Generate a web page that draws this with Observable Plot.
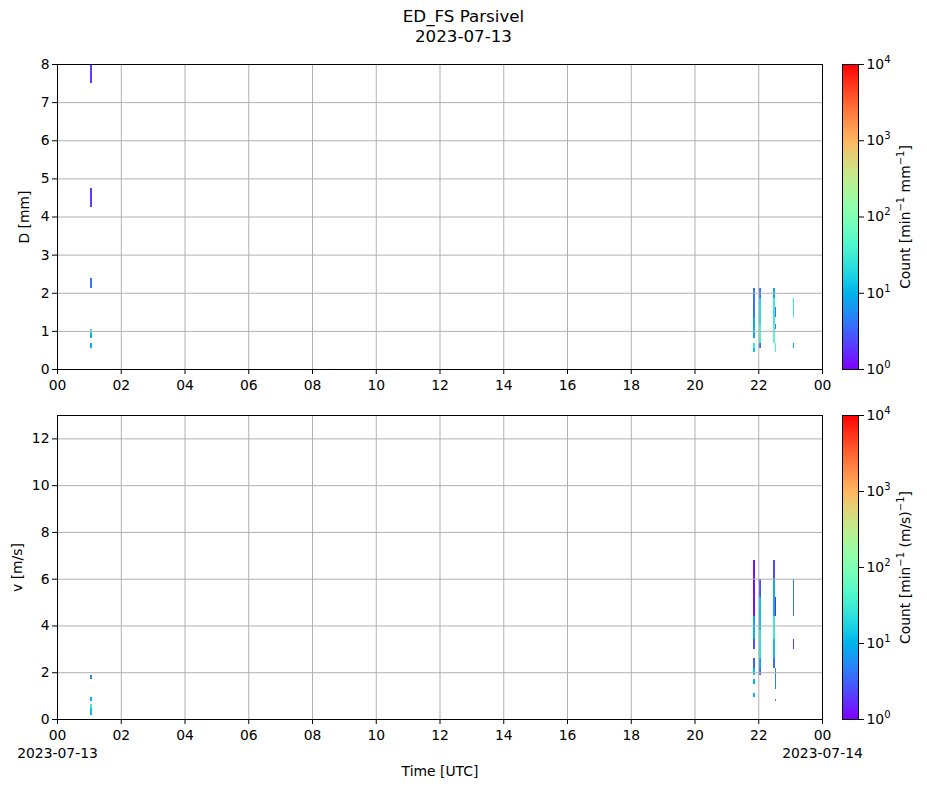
<!DOCTYPE html>
<html><head><meta charset="utf-8">
<script src="https://cdn.jsdelivr.net/npm/d3@7"></script>
<script src="https://cdn.jsdelivr.net/npm/@observablehq/plot@0.6"></script>
<style>
body{margin:0;background:#fff;font-family:"DejaVu Sans",sans-serif;}
#fig{position:relative;width:927px;height:788px;background:#fff;}
.abs{position:absolute;}
#title{left:0;top:7px;width:927px;text-align:center;font-size:16.7px;line-height:19.5px;color:#000;}
</style></head><body>
<div id="fig">
<div id="title" class="abs">ED_FS Parsivel<br>2023-07-13</div>
<div id="p1" class="abs" style="left:0;top:54px"></div>
<div id="c1" class="abs" style="left:842px;top:54px"></div>
<div id="p2" class="abs" style="left:0;top:405px"></div>
<div id="c2" class="abs" style="left:842px;top:405px"></div>
</div>
<script>
// ---- data ----
const hourTicks = [0, 2, 4, 6, 8, 10, 12, 14, 16, 18, 20, 22, 24];
const diameterTicks = [0, 1, 2, 3, 4, 5, 6, 7, 8];
const velocityTicks = [0, 2, 4, 6, 8, 10, 12];
const colorTicks = [1, 10, 100, 1000, 10000];
const startDate = "2023-07-13";
const endDate = "2023-07-14";
const diameterUnitLabel = [["Count [min", false], ["−1", true], [" mm", false], ["−1", true], ["]", false]];
const velocityUnitLabel = [["Count [min", false], ["−1", true], [" (m/s)", false], ["−1", true], ["]", false]];

// [start time UTC, minutes, bin low, bin high, count]
const diameterCells = [
  ["01:02", 4, 7.5, 8.5, 2],
  ["01:02", 4, 4.25, 4.75, 2],
  ["01:02", 4, 2.125, 2.375, 4],
  ["01:02", 4, 0.937, 1.062, 25],
  ["01:02", 4, 0.812, 0.937, 10],
  ["01:02", 4, 0.562, 0.687, 9],
  ["21:50", 4, 1.375, 2.125, 4],
  ["21:50", 4, 0.937, 1.375, 9],
  ["21:50", 4, 0.812, 0.937, 7],
  ["21:50", 4, 0.562, 0.687, 30],
  ["21:50", 4, 0.437, 0.562, 14],
  ["22:02", 3, 1.875, 2.125, 4],
  ["22:02", 3, 1.187, 1.875, 20],
  ["22:02", 3, 0.687, 1.187, 40],
  ["22:02", 3, 0.562, 0.687, 4],
  ["22:27", 4, 1.875, 2.125, 10],
  ["22:27", 4, 1.187, 1.875, 30],
  ["22:27", 4, 0.687, 1.187, 50],
  ["22:31", 2, 1.375, 1.625, 4],
  ["22:31", 2, 1.062, 1.187, 5],
  ["22:31", 2, 0.437, 0.687, 40],
  ["23:05", 2, 1.375, 1.875, 25],
  ["23:05", 2, 0.562, 0.687, 8]
];
const velocityCells = [
  ["01:02", 4, 1.7, 1.9, 5],
  ["01:02", 4, 0.75, 0.95, 10],
  ["01:02", 4, 0.45, 0.65, 30],
  ["01:02", 4, 0.15, 0.45, 12],
  ["21:50", 4, 4.4, 6.8, 1.2],
  ["21:50", 4, 3.8, 4.4, 8],
  ["21:50", 4, 3.4, 3.8, 9],
  ["21:50", 4, 3.0, 3.4, 2.5],
  ["21:50", 4, 2.2, 2.6, 3],
  ["21:50", 4, 1.9, 2.2, 12],
  ["21:50", 4, 1.5, 1.7, 10],
  ["21:50", 4, 0.95, 1.1, 10],
  ["22:02", 3, 5.2, 6.0, 2.5],
  ["22:02", 3, 3.8, 5.2, 12],
  ["22:02", 3, 2.6, 3.8, 25],
  ["22:02", 3, 2.2, 2.6, 8],
  ["22:02", 3, 1.9, 2.2, 4],
  ["22:27", 4, 6.0, 6.8, 2.5],
  ["22:27", 4, 4.4, 6.0, 9],
  ["22:27", 4, 3.4, 4.4, 30],
  ["22:27", 4, 2.6, 3.4, 12],
  ["22:27", 4, 2.2, 2.6, 4],
  ["22:31", 2, 4.4, 5.2, 1.5],
  ["22:31", 2, 1.3, 2.2, 5],
  ["22:31", 2, 0.75, 0.85, 5],
  ["23:05", 2, 4.4, 6.0, 4],
  ["23:05", 2, 3.0, 3.4, 2]
];

// ---- helpers ----
const FONT = "DejaVu Sans";
const FS = 13.9;
const SVGNS = "http://www.w3.org/2000/svg";
function rainbow(t) {
  const r = Math.min(1, Math.abs(2 * t - 0.5));
  const g = Math.max(0, Math.sin(Math.PI * t));
  const b = Math.max(0, Math.cos(Math.PI * t / 2));
  return d3.rgb(r * 255, g * 255, b * 255).formatHex();
}
const colorOpts = {type: "log", domain: [1, 1e4], interpolate: rainbow};
function toHours(s) { const [h, m] = s.split(":").map(Number); return h + m / 60; }
const pad = h => String(h % 24).padStart(2, "0");

// rewrite a text element as normal + superscript tspans
function supify(el, parts) {
  while (el.firstChild) el.removeChild(el.firstChild);
  let raised = false;
  for (const [str, isSup] of parts) {
    const ts = document.createElementNS(SVGNS, "tspan");
    ts.textContent = str;
    if (isSup && !raised) { ts.setAttribute("dy", "-6"); ts.setAttribute("font-size", "10px"); raised = true; }
    else if (isSup) { ts.setAttribute("font-size", "10px"); }
    else if (!isSup && raised) { ts.setAttribute("dy", "6"); raised = false; }
    el.appendChild(ts);
  }
}

function panel(cells, yDomain, yTicks, yLabel, yLabelOffset, bottom) {
  const rows = cells.map(([start, minutes, lo, hi, count]) => ({
    x1: toHours(start), x2: toHours(start) + minutes / 60, y1: lo, y2: hi, count
  }));
  const fmt = bottom
    ? (h => h === 0 ? "00\n" + startDate : h === 24 ? "00\n" + endDate : pad(h))
    : pad;
  return Plot.plot({
    width: 840, height: bottom ? 383 : 350,
    marginLeft: 57, marginRight: 18, marginTop: 10, marginBottom: bottom ? 69 : 35,
    style: {fontFamily: FONT, fontSize: FS + "px", color: "#000", background: "transparent", overflow: "visible"},
    x: {domain: [0, 24]},
    y: {domain: yDomain},
    color: colorOpts,
    marks: [
      Plot.rect(rows, {x1: "x1", x2: "x2", y1: "y1", y2: "y2", fill: "count", clip: true, shapeRendering: "crispEdges"}),
      Plot.gridX(hourTicks, {stroke: "#b0b0b0", strokeOpacity: 1, strokeWidth: 1}),
      Plot.gridY(yTicks, {stroke: "#b0b0b0", strokeOpacity: 1, strokeWidth: 1}),
      Plot.frame({stroke: "#000", strokeWidth: 1}),
      Plot.axisX(hourTicks, {tickFormat: fmt, tickSize: 5, tickPadding: 3, lineHeight: 1.3, fontSize: FS,
        label: bottom ? "Time [UTC]" : null, labelAnchor: "center", labelArrow: "none", labelOffset: 56}),
      Plot.axisY(yTicks, {tickSize: 5, tickPadding: 3, fontSize: FS,
        label: yLabel, labelAnchor: "center", labelArrow: "none", labelOffset: yLabelOffset})
    ]
  });
}

function colorbar(labelParts, bottom) {
  const steps = d3.range(0, 400).map(i => ({lo: 10 ** (i / 100), hi: 10 ** ((i + 1) / 100)}));
  const svg = Plot.plot({
    width: 85, height: bottom ? 383 : 350,
    marginLeft: 0, marginRight: 69, marginTop: 10, marginBottom: bottom ? 69 : 35,
    style: {fontFamily: FONT, fontSize: FS + "px", color: "#000", background: "transparent", overflow: "visible"},
    x: {domain: [0, 1], axis: null},
    y: {type: "log", domain: [1, 1e4]},
    color: colorOpts,
    marks: [
      Plot.rect(steps, {x1: 0, x2: 1, y1: "lo", y2: "hi", fill: d => Math.sqrt(d.lo * d.hi), shapeRendering: "crispEdges"}),
      Plot.frame({stroke: "#000", strokeWidth: 1}),
      Plot.axisY(colorTicks, {anchor: "right", tickSize: 5, tickPadding: 3, tickFormat: v => "10^" + Math.round(Math.log10(v)), fontSize: FS, label: null}),
      Plot.text(["cblabel"], {frameAnchor: "right", rotate: -90, dx: 47, textAnchor: "middle", lineAnchor: "middle", text: d => d, fontSize: FS})
    ]
  });
  svg.querySelectorAll("text").forEach(t => {
    const s = t.textContent;
    if (s.startsWith("10^")) supify(t, [["10", false], [s.slice(3), true]]);
    else if (s === "cblabel") supify(t, labelParts);
  });
  return svg;
}

document.getElementById("p1").append(panel(diameterCells, [0, 8], diameterTicks, "D [mm]", 38, false));
document.getElementById("c1").append(colorbar(diameterUnitLabel, false));
document.getElementById("p2").append(panel(velocityCells, [0, 13], velocityTicks, "v [m/s]", 45, true));
document.getElementById("c2").append(colorbar(velocityUnitLabel, true));
</script>
</body></html>
